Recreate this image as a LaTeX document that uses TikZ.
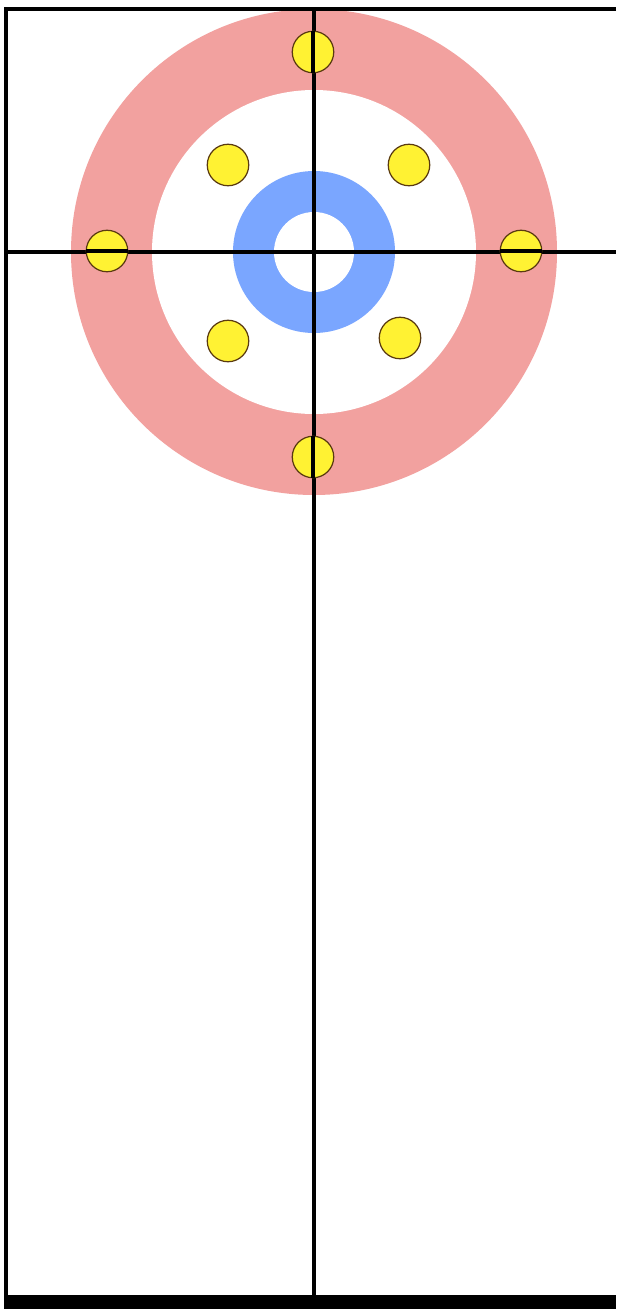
\documentclass[tikz,border=0pt]{standalone}
\usepackage{xcolor}
\usepackage{tikz}
\definecolor{ringred}{HTML}{F2A19F}
\definecolor{ringblue}{HTML}{7AA6FF}
\definecolor{stoneyellow}{HTML}{FFF233}
\definecolor{stoneedge}{HTML}{5A3A10}

\begin{document}
\begin{tikzpicture}[
    x=0.02cm, y=-0.02cm,
    stone/.style={circle, draw=stoneedge, fill=stoneyellow, line width=0.7pt,
                  minimum size=0.83cm, inner sep=0pt},
    sheetline/.style={black, line width=1.8pt}
]
  \useasboundingbox (0,0) rectangle (616,1309);
  \fill[white] (0,0) rectangle (616,1309);

  % House rings (centre at the button)
  \coordinate (button) at (314,252);
  \fill[ringred]  (button) circle[radius=243];
  \fill[white]    (button) circle[radius=162];
  \fill[ringblue] (button) circle[radius=81];
  \fill[white]    (button) circle[radius=40];

  % Sheet border, centre line and tee line
  \coordinate (tl) at (6,9);
  \coordinate (tr) at (616,9);
  \coordinate (bl) at (6,1296);
  \draw[sheetline] (tr) -- (tl) -- (bl);
  \fill[black] (4,1295) rectangle (616,1309);
  \draw[sheetline] (314,9) -- (314,1296);
  \draw[sheetline] (6,252) -- (616,252);

  % Stones round the house
  \node[stone] (top)   at (313,52)  {};
  \node[stone] (bot)   at (313,457) {};
  \node[stone] (left)  at (107,251) {};
  \node[stone] (right) at (521,251) {};
  \node[stone] (nw)    at (228,165) {};
  \node[stone] (ne)    at (409,165) {};
  \node[stone] (sw)    at (228,341) {};
  \node[stone] (se)    at (400,338) {};

  % Lines run through the stones on the axes
  \draw[sheetline] (top.north) -- (top.south);
  \draw[sheetline] (bot.north) -- (bot.south);
  \draw[sheetline] (left.west) -- (left.east);
  \draw[sheetline] (right.west) -- (right.east);
\end{tikzpicture}
\end{document}
